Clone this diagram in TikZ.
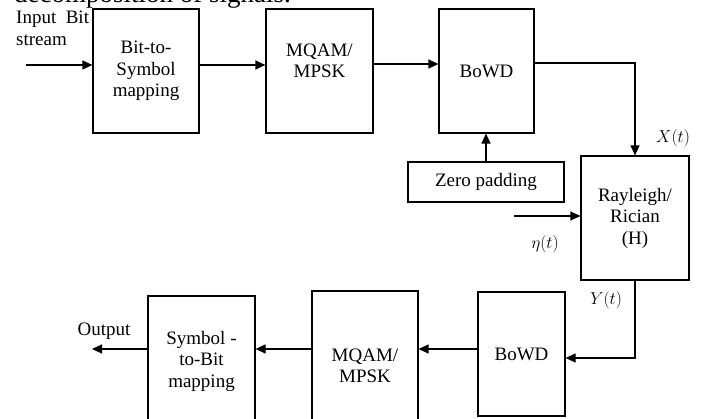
\documentclass[tikz,border=0pt]{standalone}
\usepackage{fontspec}
\setmainfont{Liberation Serif}
\usetikzlibrary{arrows.meta,positioning,calc}

\tikzset{
  blk/.style={draw,line width=1.2pt,inner sep=0pt,align=center,
    font=\fontsize{19}{21.5}\selectfont},
  sig/.style={line width=1.2pt,-{Triangle[length=10pt,width=9pt]}},
  lbl/.style={font=\fontsize{19}{21.5}\selectfont,inner sep=0pt},
}

\begin{document}
\begin{tikzpicture}[x=1pt,y=-1pt]
  \useasboundingbox (0,0) rectangle (701,419);
  % cut-off line of the page text above the figure
  \node[anchor=base west,inner sep=0pt,font=\fontsize{27}{30}\selectfont] (head) at (14,3) {decomposition of signals.};
  % transmitter row
  \node[blk,minimum width=106,minimum height=124] (bts) at (146,71) {Bit-to-\\Symbol\\mapping};
  \node[blk,minimum width=107,minimum height=124] (mqam) at (319.5,71) {};
  \node[lbl,align=center] (mqamtxt) at (319.5,61) {MQAM/\\MPSK};
  \node[blk,minimum width=95,minimum height=124] (bowd) at (486.5,71) {BoWD};
  \node[blk,minimum width=156,minimum height=40] (zpad) at (486,182) {Zero padding};
  % channel
  \node[blk,minimum width=108,minimum height=124] (chan) at (635,218) {Rayleigh/\\Rician\\(H)};
  % receiver row
  \node[blk,minimum width=87,minimum height=124] (bowdr) at (521.5,354) {BoWD};
  \node[blk,minimum width=106,minimum height=150] (mqamr) at (365,366) {MQAM/\\MPSK};
  \node[blk,minimum width=107,minimum height=130] (stb) at (201.5,361) {Symbol -\\to-Bit\\mapping};

  \coordinate (in) at (26,65);
  \coordinate (nz) at (514,216);
  \coordinate (rx) at (0,349);
  \coordinate (out) at (92,349);

  \draw[sig] (in) -- (in -| bts.west);
  \draw[sig] (bts.east |- in) -- (mqam.west |- in);
  \draw[sig] ($(mqam.east |- in)+(0,-1)$) -- ($(bowd.west |- in)+(0,-1)$);
  \draw[sig] ($(bowd.east |- in)+(0,-2)$) -| (chan.north);
  \draw[sig] (zpad.north) -- (zpad.north |- bowd.south);
  \draw[sig] (nz) -- (nz -| chan.west);
  \draw[sig] (chan.south) |- ($(bowdr.east)+(0,4)$);
  \draw[sig] (bowdr.west |- rx) -- (mqamr.east |- rx);
  \draw[sig] (mqamr.west |- rx) -- (stb.east |- rx);
  \draw[sig] (stb.west |- rx) -- (out);

  \node[lbl,anchor=west] (inlbl) at (16,19) {Input\ \ Bit};
  \node[lbl,anchor=west] (inlbl2) at (16,40) {stream};
  \node[lbl] (xlbl) at (673,138) {$X(t)$};
  \node[lbl] (nlbl) at (545,244) {$\eta(t)$};
  \node[lbl] (ylbl) at (606,300) {$Y(t)$};
  \node[lbl] (outlbl) at (104,331) {Output};
\end{tikzpicture}
\end{document}
